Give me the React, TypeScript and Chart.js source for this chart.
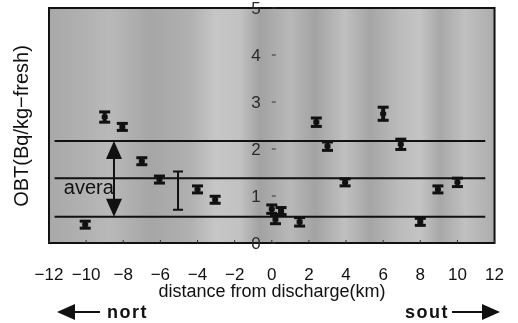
import React, { useEffect, useRef } from "react";
import { Chart, registerables } from "chart.js";

Chart.register(...registerables);

// ---- data ----
const xTickValues = [-12, -10, -8, -6, -4, -2, 0, 2, 4, 6, 8, 10, 12];
const yTickValues = [0, 1, 2, 3, 4, 5];

const pointX = [-10.05, -9.0, -8.05, -7.0, -6.05, -4.0, -3.05, 0.0, 0.5, 0.2, 1.5, 2.4, 3.0, 3.95, 6.0, 6.95, 8.0, 8.95, 10.0];
const pointY = [0.39, 2.68, 2.47, 1.74, 1.35, 1.14, 0.92, 0.72, 0.68, 0.5, 0.45, 2.57, 2.06, 1.29, 2.75, 2.1, 0.45, 1.14, 1.29];
const pointErr = [0.06, 0.12, 0.08, 0.08, 0.05, 0.08, 0.06, 0.1, 0.05, 0.1, 0.1, 0.1, 0.1, 0.08, 0.15, 0.12, 0.07, 0.06, 0.1];

const rangeX = [-5.05];
const rangeLow = [0.71];
const rangeHigh = [1.52];

const refLevels = [2.17, 1.38, 0.56];
const refStart = -11.7;
const refEnd = 11.5;

const arrowX = -8.5;
const arrowTop = 2.17;
const arrowBottom = 0.56;

const avgLabel = "avera";
const avgLabelX = -11.2;
const avgLabelY = 1.17;

const xTitle = "distance from discharge(km)";
const yTitle = "OBT(Bq/kg\u2212fresh)";
const northLabel = "nort";
const southLabel = "sout";

const FONT = "'Liberation Sans', Arial, sans-serif";

const fmt = (v: number) => (v < 0 ? "\u2212" + Math.abs(v) : String(v));

const decorPlugin = {
  id: "decor",
  beforeDatasetsDraw(chart: any) {
    const { ctx, chartArea: a, scales } = chart;
    ctx.save();
    const g = ctx.createLinearGradient(a.left, 0, a.right, 0);
    const stops: [number, string][] = [
      [47, "#a8a8a8"], [80, "#b0b0b0"], [110, "#b9b9b9"], [150, "#a6a6a6"],
      [190, "#b0b0b0"], [215, "#c6c6c6"], [240, "#c2c2c2"], [260, "#a2a2a2"],
      [290, "#b8b8b8"], [315, "#a3a3a3"], [345, "#c0c0c0"], [370, "#a5a5a5"],
      [400, "#bcbcbc"], [420, "#c4c4c4"], [440, "#a8a8a8"], [465, "#c0c0c0"],
      [490, "#b0b0b0"], [505, "#a8a8a8"],
    ];
    const w = a.right - a.left;
    stops.forEach(([px, c]) => {
      const f = Math.min(1, Math.max(0, (px - a.left) / w));
      g.addColorStop(f, c);
    });
    ctx.fillStyle = g;
    ctx.fillRect(a.left, a.top, w, a.bottom - a.top);
    ctx.strokeStyle = "#111";
    ctx.lineWidth = 2;
    ctx.strokeRect(a.left, a.top, w, a.bottom - a.top);

    const xs = scales.x;
    const ys = scales.y;
    const x0 = xs.getPixelForValue(0);
    ctx.lineWidth = 1;
    ctx.strokeStyle = "#333";
    yTickValues.forEach((v) => {
      const y = ys.getPixelForValue(v);
      ctx.beginPath();
      ctx.moveTo(x0, y);
      ctx.lineTo(x0 + 4, y);
      ctx.stroke();
    });
    xTickValues.forEach((v) => {
      const x = xs.getPixelForValue(v);
      ctx.beginPath();
      ctx.moveTo(x, a.bottom);
      ctx.lineTo(x, a.bottom - 3);
      ctx.stroke();
    });
    ctx.restore();
  },
  afterDatasetsDraw(chart: any) {
    const { ctx, scales } = chart;
    const xs = scales.x;
    const ys = scales.y;
    ctx.save();
    ctx.fillStyle = "#111";
    ctx.strokeStyle = "#111";

    pointX.forEach((xv, i) => {
      const x = xs.getPixelForValue(xv);
      const yc = ys.getPixelForValue(pointY[i]);
      const top = Math.min(ys.getPixelForValue(pointY[i] + pointErr[i]), yc - 4);
      const bot = Math.max(ys.getPixelForValue(pointY[i] - pointErr[i]), yc + 4);
      ctx.fillRect(x - 5.5, top - 1, 11, 3);
      ctx.fillRect(x - 5.5, bot - 2, 11, 3);
      ctx.fillRect(x - 2, top, 4, bot - top);
      ctx.fillRect(x - 3, yc - 2, 6, 4);
    });

    rangeX.forEach((xv, i) => {
      const x = xs.getPixelForValue(xv);
      const yt = ys.getPixelForValue(rangeHigh[i]);
      const yb = ys.getPixelForValue(rangeLow[i]);
      ctx.lineWidth = 2;
      ctx.beginPath();
      ctx.moveTo(x, yt);
      ctx.lineTo(x, yb);
      ctx.moveTo(x - 5, yt);
      ctx.lineTo(x + 5, yt);
      ctx.moveTo(x - 5, yb);
      ctx.lineTo(x + 5, yb);
      ctx.stroke();
    });

    const ax = xs.getPixelForValue(arrowX);
    const at = ys.getPixelForValue(arrowTop);
    const ab = ys.getPixelForValue(arrowBottom);
    ctx.lineWidth = 2;
    ctx.beginPath();
    ctx.moveTo(ax, at + 10);
    ctx.lineTo(ax, ab - 10);
    ctx.stroke();
    ctx.beginPath();
    ctx.moveTo(ax, at);
    ctx.lineTo(ax - 8, at + 18);
    ctx.lineTo(ax + 8, at + 18);
    ctx.closePath();
    ctx.fill();
    ctx.beginPath();
    ctx.moveTo(ax, ab);
    ctx.lineTo(ax - 8, ab - 18);
    ctx.lineTo(ax + 8, ab - 18);
    ctx.closePath();
    ctx.fill();

    ctx.font = `20px ${FONT}`;
    ctx.textAlign = "left";
    ctx.textBaseline = "middle";
    ctx.fillText(avgLabel, xs.getPixelForValue(avgLabelX), ys.getPixelForValue(avgLabelY));

    ctx.font = `17px ${FONT}`;
    ctx.fillStyle = "#2a2a2a";
    ctx.textAlign = "right";
    const x0 = xs.getPixelForValue(0);
    ys.ticks.forEach((t: any) => {
      ctx.fillText(String(t.value), x0 - 11, ys.getPixelForValue(t.value) + 1);
    });
    ctx.restore();
  },
  afterDraw(chart: any) {
    const { ctx } = chart;
    ctx.save();
    ctx.fillStyle = "#111";
    ctx.font = `20px ${FONT}`;
    ctx.textAlign = "center";
    ctx.textBaseline = "middle";
    ctx.translate(22, 126);
    ctx.rotate(-Math.PI / 2);
    ctx.fillText(yTitle, 0, 0);
    ctx.setTransform(1, 0, 0, 1, 0, 0);
    ctx.font = `18px ${FONT}`;
    ctx.fillText(xTitle, 272, 292);
    ctx.font = `bold 18px ${FONT}`;
    ctx.textAlign = "left";
    (ctx as any).letterSpacing = "1.5px";
    ctx.fillText(northLabel, 107, 313);
    ctx.fillText(southLabel, 405, 313);
    (ctx as any).letterSpacing = "0px";
    ctx.strokeStyle = "#111";
    ctx.lineWidth = 2;
    const arrow = (x1: number, x2: number, y: number) => {
      const dir = Math.sign(x2 - x1);
      ctx.beginPath();
      ctx.moveTo(x1, y);
      ctx.lineTo(x2 - dir * 14, y);
      ctx.stroke();
      ctx.beginPath();
      ctx.moveTo(x2, y);
      ctx.lineTo(x2 - dir * 18, y - 8);
      ctx.lineTo(x2 - dir * 18, y + 8);
      ctx.closePath();
      ctx.fill();
    };
    arrow(100, 57, 312);
    arrow(452, 500, 312);
    ctx.restore();
  },
};

export default function App() {
  const ref = useRef<HTMLCanvasElement | null>(null);
  useEffect(() => {
    if (!ref.current) return;
    const refDatasets = refLevels.map((lv) => ({
      type: "line" as const,
      data: [
        { x: refStart, y: lv },
        { x: refEnd, y: lv },
      ],
      borderColor: "#111",
      borderWidth: 2,
      pointRadius: 0,
    }));
    const chart = new Chart(ref.current, {
      type: "scatter",
      data: {
        datasets: [
          ...refDatasets,
          {
            type: "scatter" as const,
            data: pointX.map((x, i) => ({ x, y: pointY[i] })),
            pointRadius: 0,
          },
        ] as any,
      },
      options: {
        animation: false,
        responsive: false,
        maintainAspectRatio: false,
        layout: { padding: { left: 49, right: 13, top: 8, bottom: 0 } },
        plugins: { legend: { display: false }, tooltip: { enabled: false } },
        scales: {
          x: {
            type: "linear",
            min: -12,
            max: 12,
            afterBuildTicks: (s: any) => {
              s.ticks = xTickValues.map((v) => ({ value: v }));
            },
            ticks: {
              callback: (v: any) => fmt(Number(v)),
              font: { size: 17, family: FONT },
              color: "#111",
              padding: 14,
              maxRotation: 0,
              autoSkip: false,
            },
            grid: { display: false },
            border: { display: false },
            afterFit: (s: any) => {
              s.height = 80;
            },
          },
          y: {
            type: "linear",
            min: 0,
            max: 5,
            position: { x: 0 } as any,
            afterBuildTicks: (s: any) => {
              s.ticks = yTickValues.map((v) => ({ value: v }));
            },
            ticks: { display: false },
            grid: { display: false },
            border: { display: true, color: "#111", width: 1 },
          },
        },
      },
      plugins: [decorPlugin],
    });
    return () => chart.destroy();
  }, []);
  return (
    <div style={{ position: "absolute", left: 0, top: 0, width: 518, height: 323, background: "#fff" }}>
      <canvas ref={ref} width={518} height={323} style={{ display: "block" }} />
    </div>
  );
}
